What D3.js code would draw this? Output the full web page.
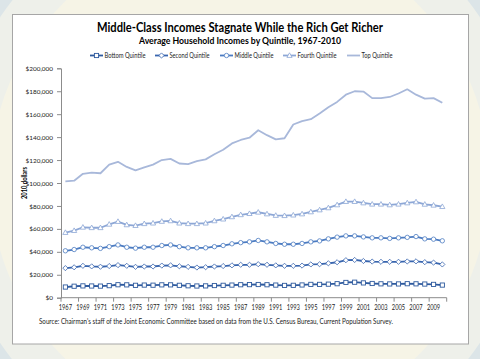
<!DOCTYPE html>
<html><head><meta charset="utf-8">
<script src="https://cdn.jsdelivr.net/npm/d3@7"></script>
<style>body{margin:0;background:#fff;}svg{display:block;font-family:Lato,"Open Sans",sans-serif;}</style>
</head><body><svg id="c" width="480" height="359"></svg>
<script>
const years = d3.range(1967, 2011);
const bottom = [9300,10000,10300,10200,10100,10500,11300,11200,10800,11000,10900,11200,11200,10800,10400,10200,10300,10600,10800,11000,11300,11400,11500,11300,11000,10700,10800,11100,11600,11600,11800,12200,13300,13500,12900,12400,12100,12000,12000,12200,12100,11900,11600,11000];
const second = [25800,26500,27800,27300,27000,27600,28400,27800,26900,27200,27200,28000,28200,27400,26900,26300,26600,27200,27600,28200,28700,28700,29200,28700,28200,27800,27800,28000,29000,29200,30000,30900,32700,32900,32000,31500,31300,31300,31300,31600,31700,31000,30600,29000];
const middle = [40900,42000,44000,43500,43000,44500,46000,44000,43200,44000,44000,45500,46000,44500,43500,43500,43500,44500,45500,47000,48000,48700,49900,48700,47300,46600,46600,47300,48700,49500,51300,52800,53900,53900,53000,52200,52200,51700,52200,52600,53300,51300,51000,49600];
const fourth = [56800,58500,61400,61000,61000,64000,66400,63500,62900,64500,65000,66500,67000,65000,64500,64500,65000,67000,68500,70500,72300,73300,74500,73000,71700,71500,72000,73000,74800,76500,78300,80900,83800,83800,82600,81500,81500,80900,81500,82600,83500,81400,80600,79400];
const top5 = [101500,102000,108000,109000,108500,116000,118500,114000,111000,113600,116000,120000,121000,117000,116500,119000,120600,125000,129000,134500,137500,139500,146000,141700,138000,139000,151000,154000,155600,160600,166000,170700,177000,180000,179700,174000,174000,175000,178000,181700,177000,173600,174000,170000];
const seriesNames = ["Bottom Quintile","Second Quintile","Middle Quintile","Fourth Quintile","Top Quintile"];
const seriesValues = [bottom, second, middle, fourth, top5];
const yTicks = [0,20000,40000,60000,80000,100000,120000,140000,160000,180000,200000];
const xTickLabels = years.filter(y => (y - 1967) % 2 === 0);

const colors = ["#2E5A9E","#3865AE","#4C7CC2","#8DA7D6","#A8B8DA"];
const markers = ["square","diamond","circle","triangle",null];

const svg = d3.select("#c");
// background
const bg = svg.append("g");
bg.append("rect").attr("width",480).attr("height",359).attr("fill","#E2E1DA");
bg.append("circle").attr("cx",240).attr("cy",180).attr("r",330).attr("fill","#DCE5E8");
bg.append("circle").attr("cx",240).attr("cy",180).attr("r",290).attr("fill","#EEF0EA");
bg.append("circle").attr("cx",240).attr("cy",180).attr("r",250).attr("fill","#F6F4E6");
bg.append("rect").attr("x",12.5).attr("y",14.5).attr("width",456).attr("height",329.5)
  .attr("fill","#fff").attr("stroke","#A6A6A6").attr("stroke-width",1);

const x = d3.scaleBand().domain(years).range([61, 446.7]);
const y = d3.scaleLinear().domain([0, 200000]).range([297.7, 68.3]);

function fitText(sel, w){ return sel.attr("textLength", w).attr("lengthAdjust","spacingAndGlyphs"); }

// title
fitText(svg.append("text").attr("x",240).attr("y",31.5).attr("text-anchor","middle")
  .attr("font-size",14).attr("font-weight","bold").attr("fill","#000")
  .text("Middle-Class Incomes Stagnate While the Rich Get Richer"), 286);
fitText(svg.append("text").attr("x",240).attr("y",43.5).attr("text-anchor","middle")
  .attr("font-size",10).attr("font-weight","bold").attr("fill","#000")
  .text("Average Household Incomes by Quintile, 1967-2010"), 202);

function drawMarker(g, type, cx, cy, color){
  if(type==="square") g.append("rect").attr("x",cx-2.1).attr("y",cy-2.1).attr("width",4.2).attr("height",4.2)
     .attr("fill","#fff").attr("stroke",color).attr("stroke-width",0.9);
  else if(type==="diamond") g.append("path").attr("d",`M${cx},${cy-2.6}L${cx+2.6},${cy}L${cx},${cy+2.6}L${cx-2.6},${cy}Z`)
     .attr("fill","#fff").attr("stroke",color).attr("stroke-width",0.8);
  else if(type==="circle") g.append("circle").attr("cx",cx).attr("cy",cy).attr("r",2.2)
     .attr("fill","#fff").attr("stroke",color).attr("stroke-width",0.8);
  else if(type==="triangle") g.append("path").attr("d",`M${cx},${cy-2.7}L${cx+2.6},${cy+1.9}L${cx-2.6},${cy+1.9}Z`)
     .attr("fill","#fff").attr("stroke",color).attr("stroke-width",0.8);
}

// legend
const legX = [90,155,220,283,347];
const legW = [41,40,39,39,31];
const lg = svg.append("g");
seriesNames.forEach((n,i)=>{
  const lx = legX[i], ly = 55.5;
  lg.append("line").attr("x1",lx).attr("x2",lx+13).attr("y1",ly).attr("y2",ly)
    .attr("stroke",colors[i]).attr("stroke-width",1.8);
  if(markers[i]) drawMarker(lg, markers[i], lx+6.5, ly, colors[i]);
  fitText(lg.append("text").attr("x",lx+14.5).attr("y",ly+2.3).attr("font-size",6.6).attr("fill","#222").text(n), legW[i]);
});

// axes
const yAxis = d3.axisLeft(y).tickValues(yTicks).tickSize(4).tickPadding(4)
  .tickFormat(d => "$" + d3.format(",")(d));
const ya = svg.append("g").attr("transform","translate(61,0)").call(yAxis);
ya.select(".domain").attr("stroke","#8C8C8C");
ya.selectAll(".tick line").attr("stroke","#8C8C8C");
ya.selectAll("text").attr("font-size",6.4).attr("fill","#222").attr("font-family","Lato");

const xa = svg.append("g").attr("transform","translate(0,297.7)");
xa.append("line").attr("x1",61).attr("x2",446.7).attr("stroke","#8C8C8C");
const xTickPos = xTickLabels.map(v => x(v)).concat([446.7]);
xa.selectAll("line.t").data(xTickPos).enter().append("line").attr("class","t")
  .attr("x1",d=>d).attr("x2",d=>d).attr("y1",0).attr("y2",4).attr("stroke","#8C8C8C");
xa.selectAll("text").data(xTickLabels).enter().append("text")
  .attr("x",d=>x(d)+x.bandwidth()/2).attr("y",12).attr("text-anchor","middle")
  .attr("font-size",7.2).attr("fill","#222").attr("textLength",13.3).attr("lengthAdjust","spacingAndGlyphs").text(d=>d);

// y label
fitText(svg.append("text").attr("transform","translate(27,183) rotate(-90)").attr("text-anchor","middle")
  .attr("font-size",6.8).attr("font-weight","bold").attr("fill","#000").text("2010 dollars"), 32);

// lines
const line = d3.line().x((d,i)=>x(years[i])+x.bandwidth()/2).y(d=>y(d));
const order = [4,3,2,1,0];
order.forEach(i=>{
  const g = svg.append("g");
  g.append("path").datum(seriesValues[i]).attr("d",line).attr("fill","none")
    .attr("stroke",colors[i]).attr("stroke-width",1.8).attr("stroke-linejoin","round");
  if(markers[i]) seriesValues[i].forEach((v,j)=>drawMarker(g, markers[i], x(years[j])+x.bandwidth()/2, y(v), colors[i]));
});

// source
fitText(svg.append("text").attr("x",39).attr("y",324).attr("font-size",6.6).attr("fill","#222")
  .text("Source:  Chairman's staff of the Joint Economic Committee  based on data from the U.S. Census Bureau, Current Population Survey."), 354);
</script></body></html>
